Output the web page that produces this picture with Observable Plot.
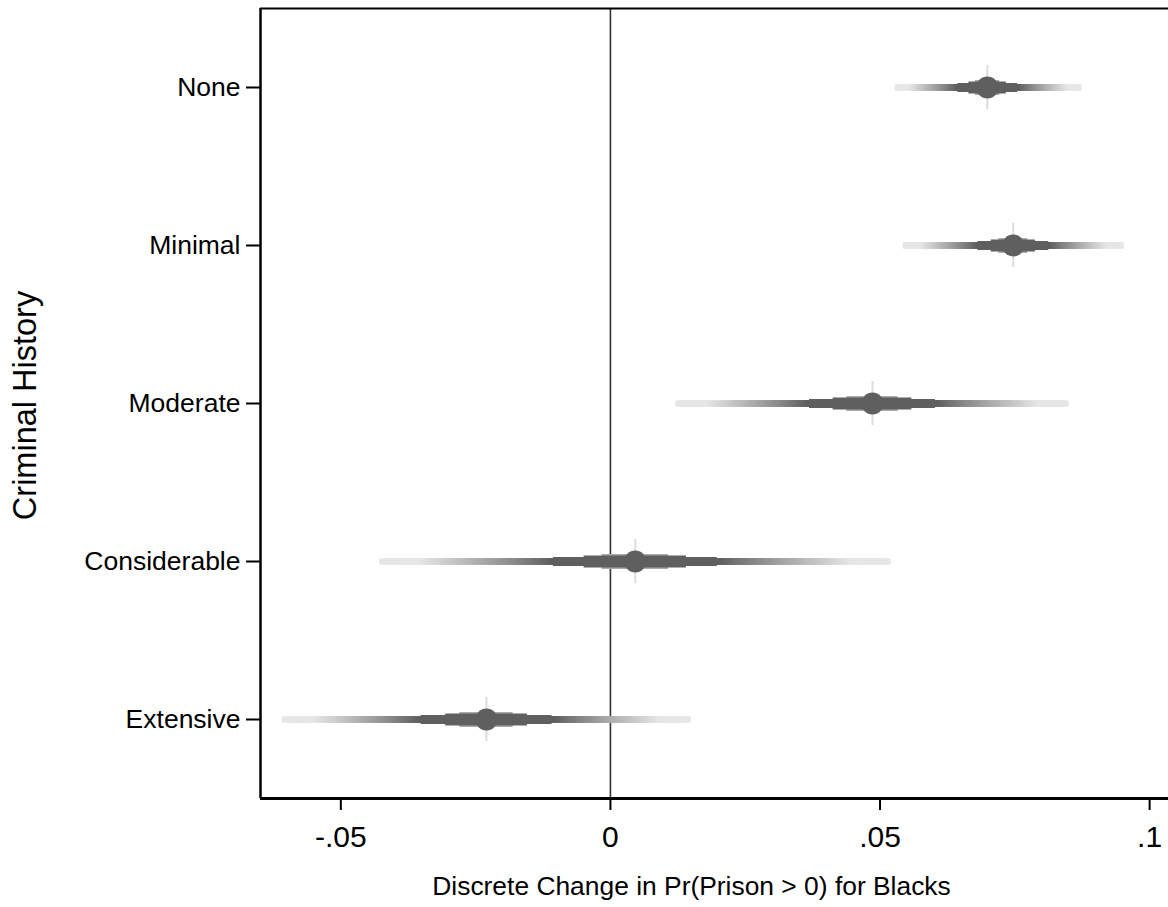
<!DOCTYPE html>
<html><head><meta charset="utf-8">
<script src="https://cdn.jsdelivr.net/npm/d3@7"></script>
<script src="https://cdn.jsdelivr.net/npm/@observablehq/plot@0.6"></script>
<style>
body{margin:0;background:#fff;}
#chart svg{font-family:"Liberation Sans",Arial,sans-serif;background:#fff;}
</style></head><body><div id="chart"></div>
<script>
const categories = ["None", "Minimal", "Moderate", "Considerable", "Extensive"];
const estimates = [0.0699, 0.0747, 0.0486, 0.0046, -0.0230];
const lower = [0.0528, 0.0543, 0.0121, -0.0428, -0.0608];
const upper = [0.0875, 0.0953, 0.0851, 0.0521, 0.0150];
const xTicks = [-0.05, 0, 0.05, 0.1];
const xTickLabels = ["-.05", "0", ".05", ".1"];
const xLabel = "Discrete Change in Pr(Prison > 0) for Blacks";
const yLabel = "Criminal History";

const xDomain = [-0.0649, 0.1035];
const yDomain = [-0.5, categories.length - 0.5];

const rows = categories.map((c, i) => ({cat: c, idx: i, est: estimates[i], lo: lower[i], hi: upper[i]}));

// nested interval layers (fraction f of the plotted interval), outer first
const seg = (d, f) => ({idx: d.idx, x1: d.est - (d.est - d.lo) * f, x2: d.est + (d.hi - d.est) * f});
const grayOf = f => {
  const t = Math.max(0, Math.min(1, (f - 0.34) / (0.85 - 0.34)));
  const g = Math.round(95 + (230 - 95) * Math.pow(t, 0.9));
  return `rgb(${g},${g},${g})`;
};
const N = 70;
const layers = [];
for (let k = 0; k < N; k++) {
  const f = 1 - k * (1 - 0.32) / N;
  rows.forEach(d => layers.push({...seg(d, f), color: grayOf(f)}));
}
const medium = rows.map(d => seg(d, 0.32));
const thick = rows.map(d => seg(d, 0.2));
const halo = rows.map(d => seg(d, 0.13));

const chart = Plot.plot({
  width: 1168, height: 907,
  marginLeft: 260, marginRight: 0, marginTop: 8, marginBottom: 109,
  x: {domain: xDomain},
  y: {domain: yDomain, reverse: true},
  marks: [
    Plot.ruleX([0], {stroke: "#333", strokeWidth: 1.6}),
    Plot.ruleX(rows, {x: "est", y1: d => d.idx - 0.14, y2: d => d.idx + 0.14, stroke: "#dcdcdc", strokeWidth: 2}),
    Plot.ruleY(layers, {y: "idx", x1: "x1", x2: "x2", stroke: "color", strokeWidth: 6}),
    Plot.ruleY(medium, {y: "idx", x1: "x1", x2: "x2", stroke: "#5f5f5f", strokeWidth: 9}),
    Plot.ruleY(halo, {y: "idx", x1: "x1", x2: "x2", stroke: "#a9a9a9", strokeWidth: 15}),
    Plot.ruleY(thick, {y: "idx", x1: "x1", x2: "x2", stroke: "#5f5f5f", strokeWidth: 12}),
    Plot.dot(rows, {x: "est", y: "idx", r: 11, fill: "#5f5f5f"}),
    Plot.ruleY([yDomain[0]], {stroke: "#000", strokeWidth: 2}),
    Plot.ruleY([yDomain[1]], {stroke: "#000", strokeWidth: 3}),
    Plot.ruleX([xDomain[0]], {stroke: "#000", strokeWidth: 2.5}),
    Plot.axisX({ticks: xTicks, tickFormat: d => xTickLabels[xTicks.indexOf(d)], tickSize: 12, tickPadding: 15, fontSize: 30, strokeWidth: 2, label: null, color: "#000"}),
    Plot.axisY({ticks: categories.map((c, i) => i), tickFormat: d => categories[d], tickSize: 14, tickPadding: 6, fontSize: 26.5, strokeWidth: 2, label: null, color: "#000"}),
    Plot.text([yLabel], {frameAnchor: "left", textAnchor: "middle", rotate: -90, dx: -235, dy: 2, fontSize: 32.5, fill: "#000"}),
    Plot.text([xLabel], {frameAnchor: "bottom", textAnchor: "middle", dy: 96, dx: -23, fontSize: 26.4, fill: "#000"})
  ]
});
document.getElementById("chart").appendChild(chart);
</script>
</body></html>
